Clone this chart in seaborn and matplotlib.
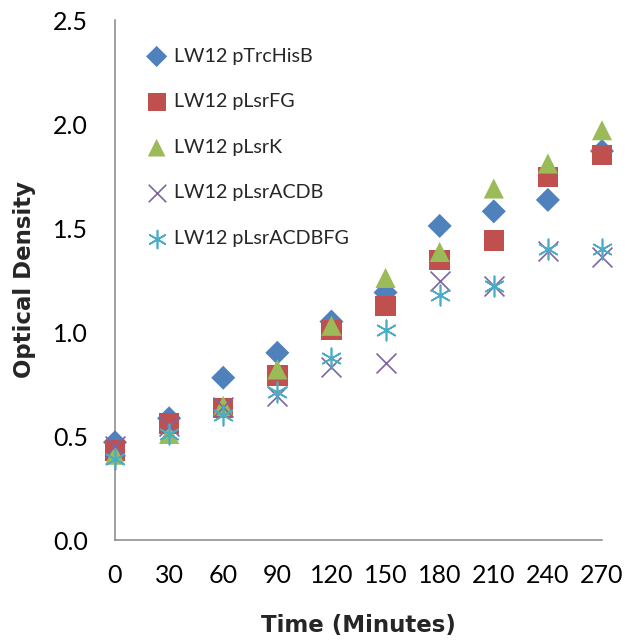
import numpy as np
import pandas as pd
import matplotlib
matplotlib.use("Agg")
import matplotlib.pyplot as plt
import seaborn as sns

time_min = [0, 30, 60, 90, 120, 150, 180, 210, 240, 270]
series_names = ["LW12 pTrcHisB", "LW12 pLsrFG", "LW12 pLsrK", "LW12 pLsrACDB", "LW12 pLsrACDBFG"]
od_ptrchisb = [0.47, 0.585, 0.78, 0.90, 1.05, 1.19, 1.51, 1.58, 1.635, 1.87]
od_plsrfg = [0.43, 0.56, 0.635, 0.79, 1.01, 1.125, 1.345, 1.44, 1.745, 1.85]
od_plsrk = [0.41, 0.51, 0.645, 0.82, 1.03, 1.26, 1.385, 1.69, 1.81, 1.97]
od_plsracdb = [0.45, 0.55, 0.64, 0.69, 0.83, 0.85, 1.245, 1.22, 1.39, 1.36]
od_plsracdbfg = [0.39, 0.51, 0.60, 0.71, 0.875, 1.01, 1.18, 1.22, 1.40, 1.40]

y_ticks = [0.0, 0.5, 1.0, 1.5, 2.0, 2.5]

all_values = [od_ptrchisb, od_plsrfg, od_plsrk, od_plsracdb, od_plsracdbfg]
df = pd.concat(
    [pd.DataFrame({"Time": time_min, "OD": v, "Strain": n}) for n, v in zip(series_names, all_values)],
    ignore_index=True,
)

colors = ["#4F81BD", "#C0504D", "#9BBB59", "#8064A2", "#4BACC6"]
markers = ["D", "s", "^", "x", (6, 2, 0)]
sizes = [150, 215, 210, 205, 215]

sns.set_style("white")
plt.rcParams["font.family"] = ["Lato", "DejaVu Sans"]

fig = plt.figure(figsize=(6.27, 6.41), dpi=100)
ax = fig.add_axes([115 / 627, 1 - 540 / 641, (602 - 115) / 627, (540 - 20) / 641])

for name, c, m, s in zip(series_names, colors, markers, sizes):
    sub = df[df["Strain"] == name]
    kw = dict(edgecolor="none") if m in ("D", "s", "^") else dict(linewidth=1.2)
    sns.scatterplot(data=sub, x="Time", y="OD", ax=ax, color=c, marker=m, s=s,
                    label=name, clip_on=False, zorder=3, **kw)

ax.set_xlim(0, 270)
ax.set_ylim(0, 2.5)
ax.set_xticks(time_min)
ax.set_yticks(y_ticks)
ax.set_yticklabels([f"{t:.1f}" for t in y_ticks])

for side in ("top", "right"):
    ax.spines[side].set_visible(False)
for side in ("left", "bottom"):
    ax.spines[side].set_color("#868686")
    ax.spines[side].set_linewidth(1.1)

ax.tick_params(axis="both", which="major", direction="out", length=6.5, width=1.1,
               color="#868686", labelsize=18, labelcolor="black")
ax.tick_params(axis="x", pad=11)
ax.tick_params(axis="y", pad=13)

label_font = dict(family="DejaVu Sans", fontsize=16.5, fontweight="bold")
ax.set_xlabel("Time (Minutes)", labelpad=19, **label_font)
ax.set_ylabel("Optical Density", labelpad=12, **label_font)

leg = ax.legend(loc="upper left", bbox_to_anchor=(0.045, 0.962), frameon=False,
                fontsize=14.2, markerscale=0.88, handletextpad=0.3, labelspacing=1.45,
                handlelength=1.2, borderaxespad=0)

fig.savefig("out.png", dpi=100, facecolor="white")
